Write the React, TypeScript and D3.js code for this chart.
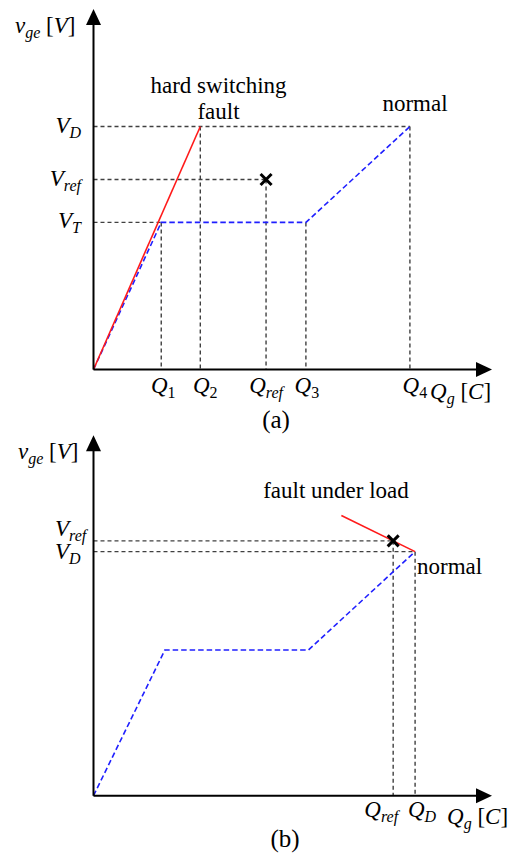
import React from "react";
import * as d3 from "d3";

const W = 508;
const H = 855;

// ---------- Panel (a) data ----------
const aTickNames = ["1", "2", "ref", "3", "4"];
const aTickQ = [17, 26.8, 43.3, 53.3, 79.4];
const aTickTopV = [40.8, 67.4, 52.7, 40.8, 67.4];
const aLevelNames = ["D", "ref", "T"];
const aLevelV = [67.4, 52.7, 40.8];
const aLevelEndQ = [79.4, 43.3, 17];
const aNormalQ = [0, 17, 53.3, 79.4];
const aNormalV = [0, 40.8, 40.8, 67.4];
const aFaultQ = [0, 26.8];
const aFaultV = [0, 67.4];
const aRef = [43.3, 52.7];

// ---------- Panel (b) data ----------
const bTickNames = ["ref", "D"];
const bTickQ = [75.2, 80.7];
const bTickTopV = [70.7, 67.7];
const bLevelNames = ["ref", "D"];
const bLevelV = [70.7, 67.7];
const bLevelEndQ = [75.2, 80.7];
const bNormalQ = [0, 17.9, 53.9, 80.7];
const bNormalV = [0, 40.4, 40.4, 67.7];
const bFaultQ = [62.2, 80.7];
const bFaultV = [77.7, 67.7];
const bRef = [75.2, 70.7];

const FONT = "'Liberation Serif', 'Times New Roman', Times, serif";
const GUIDE = "#404040";
const BLUE = "#1f1fff";
const RED = "#ff1a1a";
const MATH = 23;
const SUB = 16;

const x = d3.scaleLinear().domain([0, 100]).range([93.5, 492]);
const y = d3.scaleLinear().domain([0, 100]).range([369.5, 9]);

type Pt = [number, number];
const line = d3
  .line<Pt>()
  .x((d) => x(d[0]))
  .y((d) => y(d[1]));

const zip = (a: number[], b: number[]): Pt[] => a.map((v, i) => [v, b[i]]);

function Sym({
  main,
  sub,
  px,
  py,
  anchor = "start",
}: {
  main: string;
  sub: string;
  px: number;
  py: number;
  anchor?: string;
}) {
  const digit = /^[0-9]+$/.test(sub);
  return (
    <text
      x={px}
      y={py}
      textAnchor={anchor}
      fontFamily={FONT}
      fontSize={MATH}
      fontStyle="italic"
      fill="#000"
    >
      {main}
      <tspan fontSize={SUB} dy={5} fontStyle={digit ? "normal" : "italic"}>
        {sub}
      </tspan>
    </text>
  );
}

function Unit({ px, py, main, sub, unit }: { px: number; py: number; main: string; sub: string; unit: string }) {
  return (
    <text x={px} y={py} fontFamily={FONT} fontSize={MATH} fill="#000">
      <tspan fontStyle="italic">{main}</tspan>
      <tspan fontStyle="italic" fontSize={SUB} dy={5}>
        {sub}
      </tspan>
      <tspan dy={-5}> [</tspan>
      <tspan fontStyle="italic">{unit}</tspan>
      <tspan>]</tspan>
    </text>
  );
}

function Axes() {
  const x0 = x(0);
  const y0 = y(0);
  const tipY = y(100);
  const tipX = x(100);
  return (
    <g>
      <line x1={x0} y1={y0} x2={x0} y2={tipY + 14} stroke="#000" strokeWidth={2} />
      <line x1={x0} y1={y0} x2={tipX - 14} y2={y0} stroke="#000" strokeWidth={2} />
      <path d={`M${x0},${tipY} L${x0 - 7.5},${tipY + 16} L${x0 + 7.5},${tipY + 16} Z`} fill="#000" />
      <path d={`M${tipX},${y0} L${tipX - 16},${y0 - 7.5} L${tipX - 16},${y0 + 7.5} Z`} fill="#000" />
    </g>
  );
}

function Cross({ q, v }: { q: number; v: number }) {
  const cx = x(q);
  const cy = y(v);
  const s = 5.5;
  return (
    <g stroke="#000" strokeWidth={3} strokeLinecap="butt">
      <line x1={cx - s} y1={cy - s} x2={cx + s} y2={cy + s} />
      <line x1={cx - s} y1={cy + s} x2={cx + s} y2={cy - s} />
    </g>
  );
}

function Guides({
  levelV,
  levelEndQ,
  tickQ,
  tickTopV,
}: {
  levelV: number[];
  levelEndQ: number[];
  tickQ: number[];
  tickTopV: number[];
}) {
  return (
    <g stroke={GUIDE} strokeWidth={1.4} strokeDasharray="4,3" fill="none">
      {levelV.map((v, i) => (
        <path key={"h" + i} d={line([[0, v], [levelEndQ[i], v]]) || ""} />
      ))}
      {tickQ.map((q, i) => (
        <path key={"v" + i} d={line([[q, tickTopV[i]], [q, 0]]) || ""} />
      ))}
    </g>
  );
}

function PanelA() {
  const labelDx = [2, 5, 0, 1, 5];
  return (
    <g>
      <Guides levelV={aLevelV} levelEndQ={aLevelEndQ} tickQ={aTickQ} tickTopV={aTickTopV} />
      <path
        d={line(zip(aNormalQ, aNormalV)) || ""}
        fill="none"
        stroke={BLUE}
        strokeWidth={1.6}
        strokeDasharray="5.5,3"
      />
      <path d={line(zip(aFaultQ, aFaultV)) || ""} fill="none" stroke={RED} strokeWidth={1.6} />
      <Axes />
      <Cross q={aRef[0]} v={aRef[1]} />
      {aLevelNames.map((n, i) => (
        <Sym key={n} main="V" sub={n} px={81} py={y(aLevelV[i]) + 6} anchor="end" />
      ))}
      {aTickNames.map((n, i) => (
        <Sym key={n} main="Q" sub={n} px={x(aTickQ[i]) + labelDx[i]} py={393} anchor="middle" />
      ))}
      <Unit px={15} py={32.5} main="v" sub="ge" unit="V" />
      <Unit px={430} py={399} main="Q" sub="g" unit="C" />
      <text x={218.5} y={93} textAnchor="middle" fontFamily={FONT} fontSize={23} fill="#000">
        hard switching
      </text>
      <text x={218.5} y={119} textAnchor="middle" fontFamily={FONT} fontSize={23} fill="#000">
        fault
      </text>
      <text x={415} y={110.5} textAnchor="middle" fontFamily={FONT} fontSize={23} fill="#000">
        normal
      </text>
      <text x={276} y={427.5} textAnchor="middle" fontFamily={FONT} fontSize={25} fill="#000">
        (a)
      </text>
    </g>
  );
}

function PanelB() {
  const labelDx = [-12, 7];
  const levelDy = [-5, 7.5];
  return (
    <g transform="translate(0,426.2)">
      <Guides levelV={bLevelV} levelEndQ={bLevelEndQ} tickQ={bTickQ} tickTopV={bTickTopV} />
      <path
        d={line(zip(bNormalQ, bNormalV)) || ""}
        fill="none"
        stroke={BLUE}
        strokeWidth={1.6}
        strokeDasharray="5.5,3"
      />
      <path d={line(zip(bFaultQ, bFaultV)) || ""} fill="none" stroke={RED} strokeWidth={1.6} />
      <Axes />
      <Cross q={bRef[0]} v={bRef[1]} />
      {bLevelNames.map((n, i) => (
        <Sym key={n} main="V" sub={n} px={55} py={y(bLevelV[i]) + levelDy[i]} anchor="start" />
      ))}
      {bTickNames.map((n, i) => (
        <Sym key={n} main="Q" sub={n} px={x(bTickQ[i]) + labelDx[i]} py={391} anchor="middle" />
      ))}
      <Unit px={18} py={33} main="v" sub="ge" unit="V" />
      <Unit px={447} py={397.5} main="Q" sub="g" unit="C" />
      <text x={336} y={72} textAnchor="middle" fontFamily={FONT} fontSize={23} fill="#000">
        fault under load
      </text>
      <text x={417} y={147.8} fontFamily={FONT} fontSize={23} fill="#000">
        normal
      </text>
      <text x={285} y={421.3} textAnchor="middle" fontFamily={FONT} fontSize={25} fill="#000">
        (b)
      </text>
    </g>
  );
}

export default function App() {
  return (
    <svg
      width={W}
      height={H}
      viewBox={`0 0 ${W} ${H}`}
      style={{ position: "absolute", left: 0, top: 0, background: "#fff" }}
    >
      <PanelA />
      <PanelB />
    </svg>
  );
}
